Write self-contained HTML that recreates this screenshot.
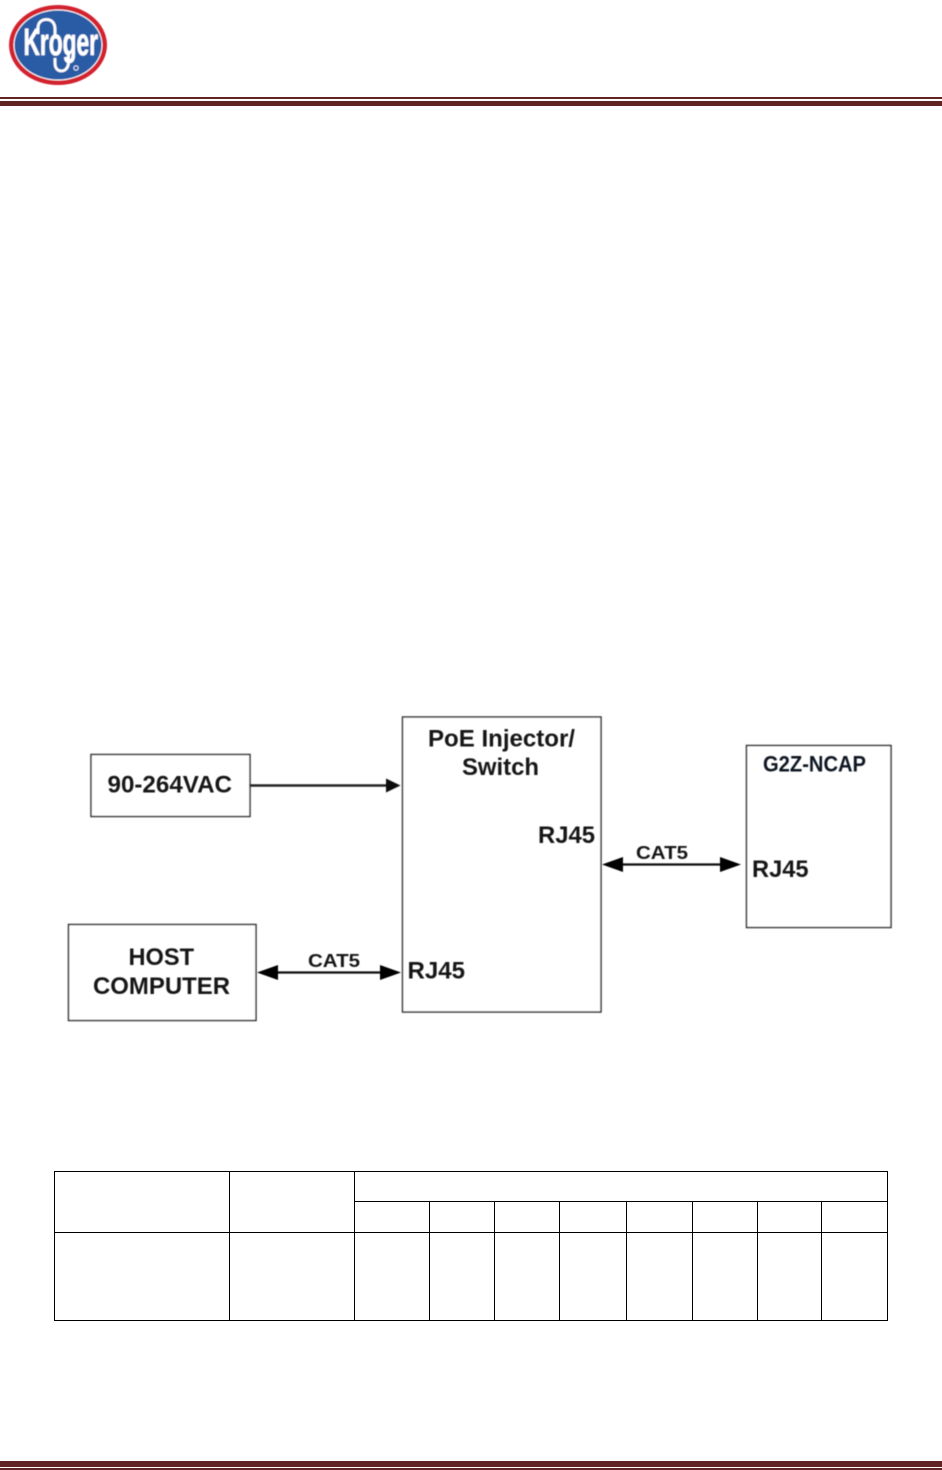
<!DOCTYPE html>
<html>
<head>
<meta charset="utf-8">
<style>
html,body{margin:0;padding:0;background:#fff;width:942px;height:1470px;overflow:hidden}
svg{display:block}
text{font-family:"Liberation Sans",sans-serif;font-weight:bold;fill:#161616}
</style>
</head>
<body>
<svg width="942" height="1470" viewBox="0 0 942 1470" xmlns="http://www.w3.org/2000/svg">
<defs>
<filter id="b" x="-5%" y="-5%" width="110%" height="110%"><feGaussianBlur stdDeviation="0.4"/></filter>
<filter id="b2" x="-5%" y="-5%" width="110%" height="110%"><feGaussianBlur stdDeviation="0.5"/></filter>
</defs>

<!-- header logo -->
<g filter="url(#b2)">
<ellipse cx="58" cy="45" rx="49" ry="40" fill="#d3202f"/>
<ellipse cx="58" cy="45" rx="44.500" ry="35.500" fill="#fff"/>
<ellipse cx="58" cy="45" rx="43.500" ry="34.500" fill="#2a5ca6"/>
<path d="M38 34 V28 C38 22 42 19.500 46.500 19.500 C51.500 19.500 55 23 55 29 V35" fill="none" stroke="#fff" stroke-width="2.800"/>
<path d="M68.500 52 V62 C68.500 68 65 71 61.500 71 C57.500 71 55 68 55 63 V58" fill="none" stroke="#fff" stroke-width="2.800"/>
<text x="23.500" y="55" font-size="38" textLength="74.500" lengthAdjust="spacingAndGlyphs" stroke="#fff" stroke-width="0.500" style="fill:#fff;font-weight:bold">Kroger</text>
<circle cx="76" cy="68" r="2.200" fill="none" stroke="#fff" stroke-width="0.800"/>
</g>

<!-- header rule -->
<rect x="0" y="97" width="942" height="2" fill="#622423"/>
<rect x="0" y="101" width="942" height="5" fill="#622423"/>

<!-- diagram boxes -->
<g filter="url(#b)" fill="#fff" stroke="#333" stroke-width="1.500">
<rect x="91" y="754.500" width="159" height="62"/>
<rect x="68.500" y="924.500" width="187.500" height="96"/>
<rect x="402.500" y="717" width="198.500" height="295"/>
<rect x="746.500" y="745.500" width="144.500" height="182"/>
</g>

<!-- connectors -->
<g filter="url(#b)">
<line x1="250" y1="785.500" x2="388" y2="785.500" stroke="#222" stroke-width="2.400"/>
<polygon points="386,778.500 400.500,785.500 386,792.500" fill="#111"/>

<line x1="275" y1="972.500" x2="382" y2="972.500" stroke="#111" stroke-width="2.200"/>
<polygon points="257,972.500 278,965 278,980" fill="#000"/>
<polygon points="401,972.500 380,965 380,980" fill="#000"/>

<line x1="620" y1="864.500" x2="723" y2="864.500" stroke="#111" stroke-width="2.200"/>
<polygon points="602,864.500 623,857 623,872" fill="#000"/>
<polygon points="741,864.500 720,857 720,872" fill="#000"/>

<!-- labels -->
<text x="107.500" y="792.500" font-size="24" textLength="124.500" lengthAdjust="spacingAndGlyphs">90-264VAC</text>
<text x="128.500" y="965" font-size="24" textLength="65.500" lengthAdjust="spacingAndGlyphs">HOST</text>
<text x="93" y="994" font-size="24" textLength="137" lengthAdjust="spacingAndGlyphs">COMPUTER</text>
<text x="308" y="967" font-size="18.500" textLength="52" lengthAdjust="spacingAndGlyphs">CAT5</text>
<text x="407.500" y="978.500" font-size="24" textLength="57.500" lengthAdjust="spacingAndGlyphs">RJ45</text>
<text x="428" y="746.500" font-size="24" textLength="147" lengthAdjust="spacingAndGlyphs">PoE Injector/</text>
<text x="462" y="775" font-size="24" textLength="77" lengthAdjust="spacingAndGlyphs">Switch</text>
<text x="538" y="843" font-size="24" textLength="57" lengthAdjust="spacingAndGlyphs">RJ45</text>
<text x="636" y="859" font-size="18.500" textLength="52" lengthAdjust="spacingAndGlyphs">CAT5</text>
<text x="752" y="877" font-size="24" textLength="56.500" lengthAdjust="spacingAndGlyphs">RJ45</text>
<text x="763" y="771.500" font-size="22" textLength="103" lengthAdjust="spacingAndGlyphs" style="fill:#0c1220">G2Z-NCAP</text>
</g>

<!-- table -->
<g stroke="#000" stroke-width="1" fill="none" shape-rendering="crispEdges">
<rect x="54.500" y="1171.500" width="833" height="149"/>
<line x1="229.500" y1="1171" x2="229.500" y2="1321"/>
<line x1="354.500" y1="1171" x2="354.500" y2="1321"/>
<line x1="429.500" y1="1201" x2="429.500" y2="1321"/>
<line x1="494.500" y1="1201" x2="494.500" y2="1321"/>
<line x1="559.500" y1="1201" x2="559.500" y2="1321"/>
<line x1="626.500" y1="1201" x2="626.500" y2="1321"/>
<line x1="692.500" y1="1201" x2="692.500" y2="1321"/>
<line x1="757.500" y1="1201" x2="757.500" y2="1321"/>
<line x1="821.500" y1="1201" x2="821.500" y2="1321"/>
<line x1="354" y1="1201.500" x2="888" y2="1201.500"/>
<line x1="54" y1="1232.500" x2="888" y2="1232.500"/>
</g>

<!-- footer rule -->
<rect x="0" y="1461" width="942" height="6" fill="#622423"/>
<rect x="0" y="1468" width="942" height="2" fill="#622423"/>
</svg>
</body>
</html>
